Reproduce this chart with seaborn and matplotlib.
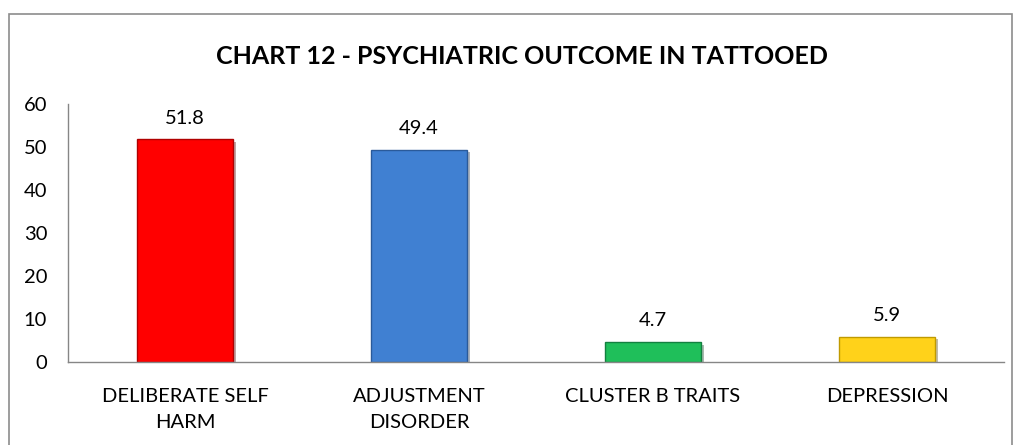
import matplotlib
matplotlib.use("Agg")
import matplotlib.pyplot as plt
import matplotlib.patheffects as pe
from matplotlib.patches import Rectangle
import seaborn as sns
import pandas as pd

categories = ["DELIBERATE SELF\nHARM", "ADJUSTMENT\nDISORDER", "CLUSTER B TRAITS", "DEPRESSION"]
values = [51.8, 49.4, 4.7, 5.9]
value_labels = ["51.8", "49.4", "4.7", "5.9"]
colors = ["#FF0000", "#4080D2", "#1FBF5A", "#FFD21A"]
edges = ["#B00000", "#2A5A9A", "#138040", "#C09A00"]

sns.set_style("white")
plt.rcParams["font.family"] = ["Lato", "DejaVu Sans"]
plt.rcParams["text.color"] = "black"

df = pd.DataFrame({"cat": categories, "val": values})

fig = plt.figure(figsize=(10.21, 4.45), dpi=100)
ax = fig.add_axes([68 / 1021, 1 - 362 / 445, (1004 - 68) / 1021, (362 - 104) / 445])

# outer chart frame
fig.patches.append(Rectangle((9 / 1021, -0.1), (1012 - 9) / 1021, 1.1 - 14 / 445,
                             transform=fig.transFigure, fill=False,
                             edgecolor="#8C8C8C", linewidth=1.2))

sns.barplot(data=df, x="cat", y="val", hue="cat", palette=colors, legend=False,
            width=0.41, ax=ax, saturation=1)

for bar, ec in zip(ax.patches, edges):
    bar.set_edgecolor(ec)
    bar.set_linewidth(1.0)
    bar.set_path_effects([pe.SimplePatchShadow(offset=(2, -2), alpha=0.35), pe.Normal()])

for i, (v, lab) in enumerate(zip(values, value_labels)):
    ax.annotate(lab, (i, v), xytext=(0, 9), textcoords="offset points",
                ha="center", va="bottom", fontsize=14.5, color="black")

ax.set_ylim(0, 60)
ax.set_xlim(-0.5, 3.5)
ax.set_yticks(range(0, 61, 10))
ax.set_xticks(range(4))
ax.set_xticks([-0.5, 0.5, 1.5, 2.5, 3.5], minor=True)
ax.set_xticklabels(categories, fontsize=14.5, linespacing=1.62)
ax.tick_params(axis="x", which="major", length=0, pad=19, labelcolor="black")
ax.tick_params(axis="x", which="minor", length=6, color="#868686", width=1)
ax.tick_params(axis="y", length=6, color="#868686", width=1, labelsize=14.5, pad=9,
               labelcolor="black")
ax.yaxis.set_tick_params(direction="out")
ax.xaxis.set_tick_params(which="both", direction="out")

for s in ["top", "right"]:
    ax.spines[s].set_visible(False)
for s in ["left", "bottom"]:
    ax.spines[s].set_color("#868686")
    ax.spines[s].set_linewidth(1)

ax.set_xlabel("")
ax.set_ylabel("")

fig.text(522 / 1021, 1 - 57 / 445, "CHART 12 - PSYCHIATRIC OUTCOME IN TATTOOED",
         ha="center", va="center", fontsize=18, fontweight="bold", color="black")

fig.savefig("out.png", dpi=100)
